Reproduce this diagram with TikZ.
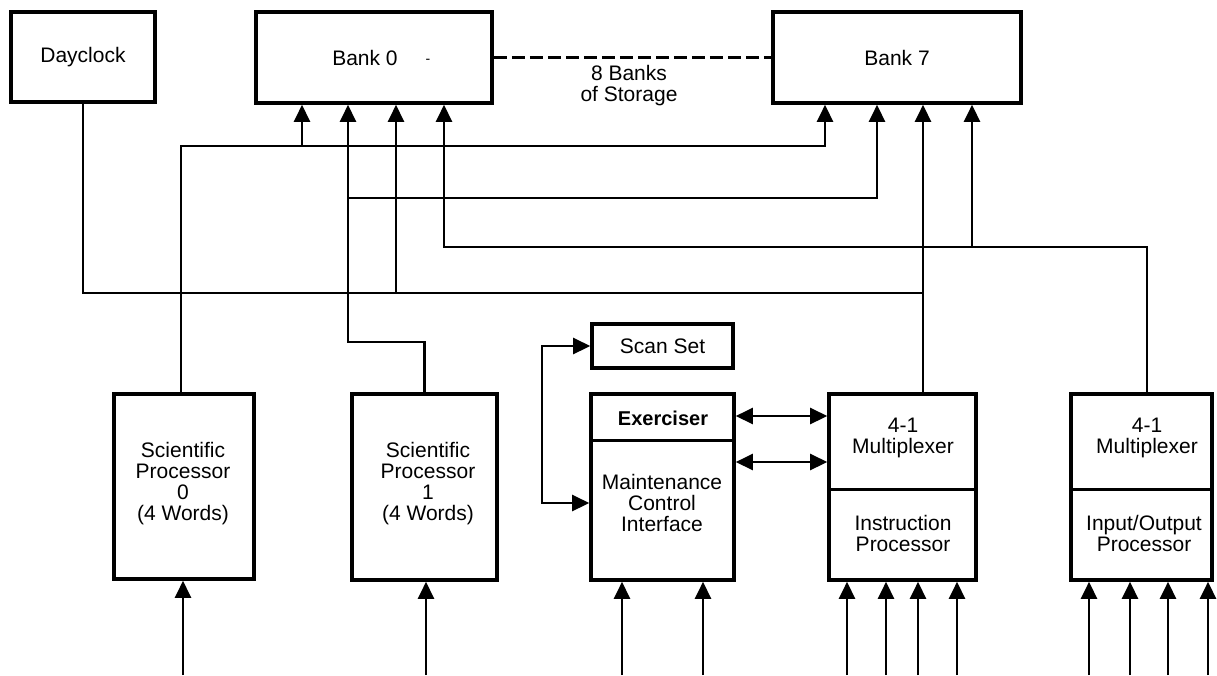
\documentclass[tikz,border=0pt]{standalone}
\usepackage{fontspec}
\setmainfont{Liberation Sans}
\usetikzlibrary{arrows.meta}
\begin{document}
\begin{tikzpicture}[x=1pt,y=-1pt,
  box/.style={draw,line width=3.6pt,inner sep=0pt,align=center,font=\fontsize{21}{21}\selectfont},
  lbl/.style={inner sep=0pt,align=center,font=\fontsize{21}{21}\selectfont},
  wire/.style={line width=2.5pt},
  arr/.style={wire,-{Triangle[length=17pt,width=16pt]}},
  darr/.style={wire,{Triangle[length=17pt,width=16pt]}-{Triangle[length=17pt,width=16pt]}},
  divider/.style={line width=3pt},
]
\useasboundingbox (0,0) rectangle (1217,675);
\path[fill=white] (0,0) rectangle (1217,675);

% boxes
\node[box,minimum width=144pt,minimum height=90pt] (dc) at (83,57) {Dayclock};
\node[box,minimum width=236pt,minimum height=91pt] (b0) at (374,57.5) {};
\node[lbl] (b0t) at (365,58) {Bank 0};
\node[lbl,font=\fontsize{14}{14}\selectfont] (b0d) at (428,61) {-};
\node[box,minimum width=248pt,minimum height=91pt] (b7) at (897,57.5) {Bank 7};
\node[lbl] (stor) at (629,86) {8 Banks\\of Storage};

\node[box,minimum width=140pt,minimum height=185pt] (sp0) at (184,486.5) {};
\node[box,minimum width=145pt,minimum height=186pt] (sp1) at (424.5,487) {};
\node[box,minimum width=141pt,minimum height=44pt] (ss) at (662.5,346) {Scan Set};
\node[box,minimum width=143pt,minimum height=186pt] (mci) at (662.5,487) {};
\node[box,minimum width=147pt,minimum height=186pt] (ip) at (902.5,487) {};
\node[box,minimum width=141pt,minimum height=186pt] (iop) at (1141.5,487) {};

% dividers
\draw[divider] (mci.west |- 0,440) -- (mci.east |- 0,440);
\draw[divider] (ip.west |- 0,489) -- (ip.east |- 0,489);
\draw[divider] (iop.west |- 0,489) -- (iop.east |- 0,489);

% labels
\node[lbl] (sp0t) at (183,484) {Scientific\\Processor\\0\\(4 Words)};
\node[lbl] (sp1t) at (428,484) {Scientific\\Processor\\1\\(4 Words)};
\node[lbl,font=\fontsize{20}{21}\selectfont\bfseries] (ext) at (663,418) {Exerciser};
\node[lbl] (mcit) at (662,503) {Maintenance\\Control\\Interface};
\node[lbl] (ipt1) at (903,438) {4-1\\Multiplexer};
\node[lbl] (ipt2) at (903,533) {Instruction\\Processor};
\node[lbl] (iopt1) at (1147,438) {4-1\\Multiplexer};
\node[lbl] (iopt2) at (1144,533) {Input/Output\\Processor};

% bank inputs
\coordinate (b0a) at (b0.south -| 302,0);
\coordinate (b0b) at (b0.south -| 348,0);
\coordinate (b0c) at (b0.south -| 396,0);
\coordinate (b0d) at (b0.south -| 444,0);
\coordinate (b7a) at (b7.south -| 825,0);
\coordinate (b7b) at (b7.south -| 877,0);
\coordinate (b7c) at (b7.south -| 923,0);
\coordinate (b7d) at (b7.south -| 972,0);

% dashed link between banks
\draw[wire,line width=2.8pt,dash pattern=on 13pt off 5pt] (b0.east) -- (b7.west);

% Scientific Processor 0 bus
\draw[arr] ([xshift=-3pt]sp0.north) |- (825,146) -- (b7a);
\draw[arr] (302,146) -- (b0a);
% Scientific Processor 1 bus
\draw[arr] (sp1.north) |- (348,342) -- (b0b);
\draw[arr] (348,198) -| (b7b);
% IOP bus
\draw[arr] ([xshift=5.5pt]iop.north) |- (444,247) -- (b0d);
\draw[arr] (972,247) -- (b7d);
% IP bus and Dayclock
\draw[arr] ([xshift=20.5pt]ip.north) -- (b7c);
\draw[wire] (dc.south) |- (923,293);
\draw[arr] (396,293) -- (b0c);

% scan set loop
\draw[darr] (ss.west) -| (542,420) |- (mci.west |- 0,503);
% MCI <-> IP
\draw[darr] (mci.east |- 0,416) -- (ip.west |- 0,416);
\draw[darr] (mci.east |- 0,462) -- (ip.west |- 0,462);

% inputs from below
\foreach \n/\x/\b in {i1/183/sp0, i2/426/sp1, i3/622/mci, i4/703/mci,
  i5/847/ip, i6/886/ip, i7/918/ip, i8/957/ip,
  i9/1089/iop, i10/1130/iop, i11/1168/iop, i12/1208/iop}{
  \coordinate (\n) at (\x,675);
  \draw[arr] (\n) -- (\n |- \b.south);
}
\end{tikzpicture}
\end{document}
